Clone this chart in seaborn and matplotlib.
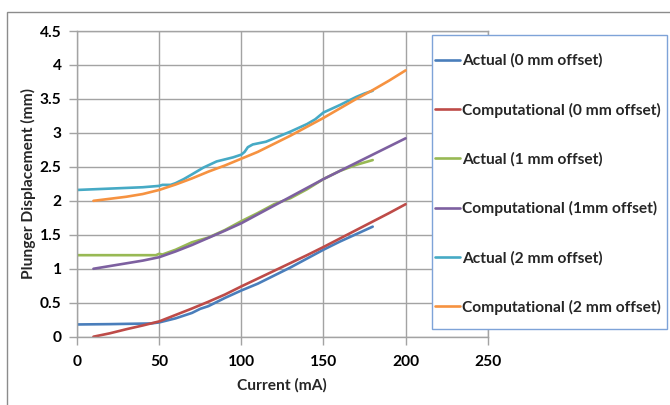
import matplotlib
matplotlib.use("Agg")
import matplotlib.pyplot as plt
import seaborn as sns
import pandas as pd
from matplotlib.patches import Rectangle

# ---------------- data ----------------
x_act0 = [0, 20, 45, 50, 60, 70, 75, 80, 90, 100, 110, 120, 130, 140, 150, 160, 170, 180]
y_act0 = [0.18, 0.185, 0.195, 0.21, 0.27, 0.35, 0.41, 0.45, 0.57, 0.68, 0.78, 0.9, 1.02, 1.15, 1.28, 1.4, 1.51, 1.62]

x_comp0 = [10, 20, 30, 40, 50, 60, 70, 80, 90, 100, 110, 120, 130, 140, 150, 160, 170, 180, 190, 200]
y_comp0 = [0.0, 0.05, 0.11, 0.165, 0.225, 0.32, 0.415, 0.515, 0.62, 0.74, 0.855, 0.97, 1.085, 1.2, 1.32, 1.445, 1.57, 1.695, 1.82, 1.95]

x_act1 = [0, 20, 48, 50, 52, 60, 70, 80, 90, 100, 110, 120, 130, 140, 150, 160, 170, 180]
y_act1 = [1.2, 1.2, 1.2, 1.22, 1.21, 1.28, 1.39, 1.46, 1.57, 1.7, 1.82, 1.95, 2.04, 2.17, 2.32, 2.44, 2.53, 2.6]

x_comp1 = [10, 20, 30, 40, 50, 60, 70, 80, 90, 100, 110, 120, 130, 140, 150, 160, 170, 180, 190, 200]
y_comp1 = [1.0, 1.04, 1.08, 1.12, 1.17, 1.255, 1.35, 1.455, 1.56, 1.67, 1.8, 1.93, 2.06, 2.19, 2.32, 2.44, 2.56, 2.68, 2.8, 2.92]

x_act2 = [0, 20, 40, 50, 52, 57, 60, 65, 70, 77, 85, 95, 100, 102, 104, 107, 115, 120, 130, 140, 145, 150, 160, 170, 175, 180]
y_act2 = [2.16, 2.18, 2.2, 2.22, 2.235, 2.235, 2.26, 2.32, 2.39, 2.49, 2.58, 2.64, 2.68, 2.72, 2.79, 2.83, 2.87, 2.92, 3.02, 3.13, 3.2, 3.3, 3.41, 3.53, 3.58, 3.62]

x_comp2 = [10, 20, 30, 40, 50, 60, 70, 80, 90, 100, 110, 120, 130, 140, 150, 160, 170, 180, 190, 200]
y_comp2 = [2.0, 2.03, 2.06, 2.1, 2.16, 2.24, 2.33, 2.43, 2.52, 2.62, 2.72, 2.84, 2.96, 3.09, 3.22, 3.36, 3.5, 3.63, 3.77, 3.92]

series_names = ["Actual (0 mm offset)", "Computational (0 mm offset)",
                "Actual (1 mm offset)", "Computational (1mm offset)",
                "Actual (2 mm offset)", "Computational (2 mm offset)"]
series_x = [x_act0, x_comp0, x_act1, x_comp1, x_act2, x_comp2]
series_y = [y_act0, y_comp0, y_act1, y_comp1, y_act2, y_comp2]
colors = ["#4A7EBB", "#BE4B48", "#98B954", "#7D60A0", "#46AAC5", "#F69240"]

x_ticks = [0, 50, 100, 150, 200, 250]
y_ticks = [0, 0.5, 1, 1.5, 2, 2.5, 3, 3.5, 4, 4.5]
y_tick_labels = ["0", "0.5", "1", "1.5", "2", "2.5", "3", "3.5", "4", "4.5"]

# ---------------- figure ----------------
sns.set_style("white")
plt.rcParams["font.family"] = ["Lato", "DejaVu Sans"]

FS = 11.2
W, H = 670, 405
fig = plt.figure(figsize=(W / 100, H / 100), dpi=100)
fig.patch.set_facecolor("white")

# outer chart frame
fig.patches.append(Rectangle((7 / W, -0.2), 1.2, 1 - 12 / H + 0.2, transform=fig.transFigure,
                             fill=False, edgecolor="#8C8C8C", linewidth=1.0))

left, right = 77 / W, 487.7 / W
bottom, top = 1 - 336.7 / H, 1 - 31 / H
ax = fig.add_axes([left, bottom, right - left, top - bottom])

frames = []
for name, xs, ys in zip(series_names, series_x, series_y):
    frames.append(pd.DataFrame({"Current": xs, "Disp": ys, "Series": name}))
df = pd.concat(frames, ignore_index=True)

for name, col in zip(series_names, colors):
    sub = df[df["Series"] == name]
    sns.lineplot(data=sub, x="Current", y="Disp", color=col, linewidth=1.9,
                 label=name, ax=ax, sort=False, estimator=None)

ax.set_xlim(0, 250)
ax.set_ylim(0, 4.5)
ax.set_xticks(x_ticks)
ax.set_xticklabels([str(t) for t in x_ticks])
ax.set_yticks(y_ticks)
ax.set_yticklabels(y_tick_labels)

gc = "#A3A3A3"
ax.grid(True, color=gc, linewidth=1.0)
ax.set_axisbelow(True)
for s in ax.spines.values():
    s.set_color(gc)
    s.set_linewidth(1.0)
ax.tick_params(axis="both", which="both", direction="out", length=5.5, width=1.0,
               color=gc, labelsize=FS, labelcolor="black")
ax.tick_params(axis="x", pad=7.5)
ax.tick_params(axis="y", pad=5.5)
ax.tick_params(bottom=True, left=True)
for lab in ax.get_xticklabels() + ax.get_yticklabels():
    lab.set_fontweight("bold")

ax.set_xlabel("Current (mA)", fontsize=FS, fontweight="bold", labelpad=7)
ax.set_ylabel("Plunger Displacement (mm)", fontsize=FS, fontweight="bold", labelpad=2.5)

# legend frame (white box over the plot area)
ax.add_patch(Rectangle((432 / W, 1 - 329 / H), (667 - 432) / W, (329 - 35) / H,
                       transform=fig.transFigure, clip_on=False, zorder=4,
                       facecolor="white", edgecolor="#7EA3D8", linewidth=1.0))

handles, labels = ax.get_legend_handles_labels()
leg = ax.legend(handles, labels, loc="upper left",
                bbox_to_anchor=(435 / W, 1 - 53.5 / H),
                bbox_transform=fig.transFigure,
                frameon=False,
                prop={"size": FS, "weight": "bold"},
                handlelength=1.6, handletextpad=0.12, labelspacing=2.22,
                borderpad=0, borderaxespad=0)
leg.set_zorder(6)
for line in leg.get_lines():
    line.set_linewidth(1.9)

fig.savefig("out.png", dpi=100)
